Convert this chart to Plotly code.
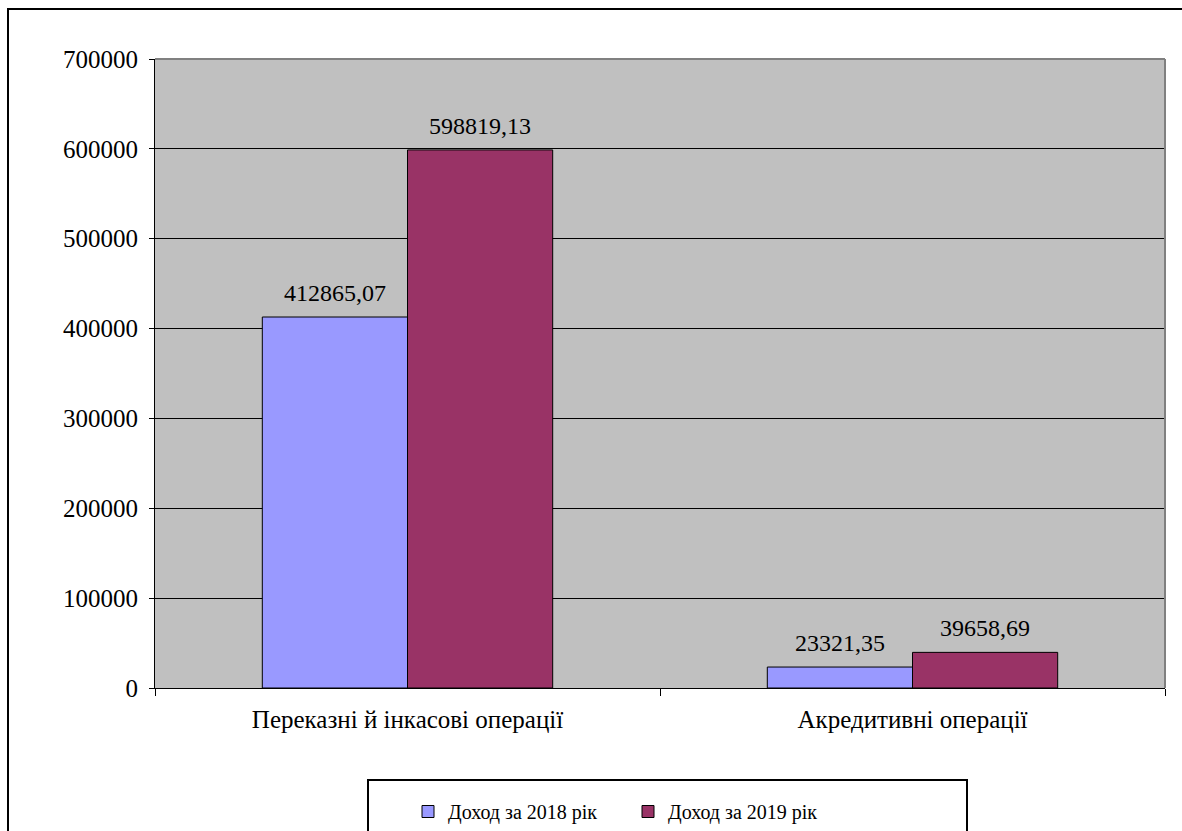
import plotly.graph_objects as go

categories = ["Переказні й інкасові операції", "Акредитивні операції"]
income_2018 = [412865.07, 23321.35]
income_2019 = [598819.13, 39658.69]
labels_2018 = ["412865,07", "23321,35"]
labels_2019 = ["598819,13", "39658,69"]
series_names = ["Доход за 2018 рік", "Доход за 2019 рік"]
y_ticks = [0, 100000, 200000, 300000, 400000, 500000, 600000, 700000]

FONT = "Liberation Serif"

W, H = 1182, 831
L, R, T, B = 155, 17, 59, 143
pw, ph = W - L - R, H - T - B
BARGAP = 0.425
bar_px = pw / len(categories) * (1 - BARGAP) / 2


def px(x):
    return (x - L) / pw


def py(y):
    return (H - B - y) / ph


fig = go.Figure()
fig.add_trace(go.Bar(
    x=categories, y=income_2018, name=series_names[0],
    marker=dict(color="#9999FF", line=dict(color="black", width=1)),
))
fig.add_trace(go.Bar(
    x=categories, y=income_2019, name=series_names[1],
    marker=dict(color="#993366", line=dict(color="black", width=1)),
))

annotations = []
for cat, v, t in zip(categories, income_2018, labels_2018):
    annotations.append(dict(x=cat, y=v, xref="x", yref="y", text=t, showarrow=False,
                            xshift=-bar_px / 2, yshift=9, yanchor="bottom",
                            font=dict(family=FONT, size=24, color="black")))
for cat, v, t in zip(categories, income_2019, labels_2019):
    annotations.append(dict(x=cat, y=v, xref="x", yref="y", text=t, showarrow=False,
                            xshift=bar_px / 2, yshift=9, yanchor="bottom",
                            font=dict(family=FONT, size=24, color="black")))

fig.update_layout(
    width=W, height=H,
    margin=dict(l=L, r=R, t=T, b=B, autoexpand=False),
    paper_bgcolor="white", plot_bgcolor="#C0C0C0",
    barmode="group", bargap=BARGAP, bargroupgap=0,
    font=dict(family=FONT, size=25, color="black"),
    showlegend=True,
    legend=dict(
        orientation="h", x=px(408), xanchor="left", y=py(792), yanchor="top",
        font=dict(family=FONT, size=20, color="black"),
        bgcolor="rgba(0,0,0,0)", borderwidth=0,
        itemwidth=30, entrywidth=175, entrywidthmode="pixels",
    ),
    xaxis=dict(
        showline=True, linecolor="black", linewidth=1,
        ticks="outside", ticklen=7, tickcolor="black", tickson="boundaries",
        showgrid=False, tickfont=dict(family=FONT, size=25),
        ticklabelstandoff=9,
    ),
    yaxis=dict(
        range=[0, 700000], tickvals=y_ticks,
        ticktext=[str(v) for v in y_ticks],
        showline=True, linecolor="black", linewidth=1,
        ticks="outside", ticklen=5, tickcolor="black",
        showgrid=True, gridcolor="black", gridwidth=1,
        tickfont=dict(family=FONT, size=25), zeroline=False,
        ticklabelstandoff=6,
    ),
    annotations=annotations,
    shapes=[
        dict(type="line", xref="paper", yref="paper", x0=0, x1=1, y0=1, y1=1,
             line=dict(color="#808080", width=2)),
        dict(type="line", xref="paper", yref="paper", x0=1, x1=1, y0=0, y1=1,
             line=dict(color="#808080", width=2)),
        dict(type="rect", xref="paper", yref="paper",
             x0=px(8), x1=px(1195), y0=py(9), y1=py(845),
             line=dict(color="black", width=2), fillcolor="rgba(0,0,0,0)", layer="below"),
        dict(type="rect", xref="paper", yref="paper",
             x0=px(368), x1=px(967), y0=py(780), y1=py(845),
             line=dict(color="black", width=2), fillcolor="rgba(0,0,0,0)"),
    ],
)

fig.write_html("out.html")
